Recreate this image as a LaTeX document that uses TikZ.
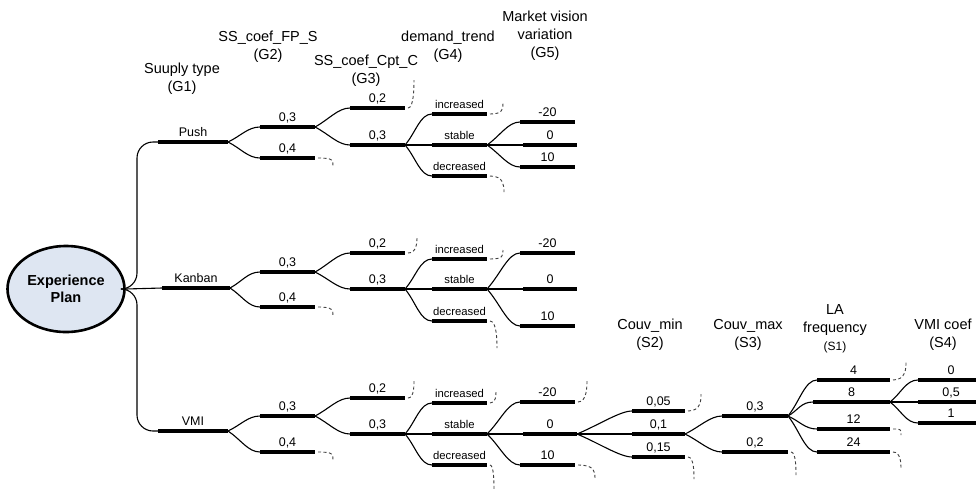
\documentclass[tikz,border=0pt]{standalone}
\usepackage{fontspec}
\setmainfont{Liberation Sans}
\usetikzlibrary{calc,shapes.geometric}
\definecolor{epfill}{HTML}{DEE6F2}
\tikzset{
  thk/.style={line width=3.8pt},
  thn/.style={line width=1.1pt},
  dsh/.style={line width=0.9pt, black!75, dash pattern=on 3pt off 2.5pt},
  lbl/.style={font=\fontsize{12.5}{14}\selectfont, inner sep=0pt},
  lbs/.style={font=\fontsize{11.3}{13}\selectfont, inner sep=0pt},
  hdr/.style={font=\fontsize{14.5}{18}\selectfont, align=center, inner sep=0pt},
}
\newcommand{\br}[6]{%
  \coordinate (#1s) at (#2,#4);
  \coordinate (#1e) at (#3,#4);
  \draw[thk] (#1s) -- (#1e);
  \node[#6, anchor=base] (#1l) at ($(#1s)!0.5!(#1e)+(0,-6)$) {#5};
}
\newcommand{\sg}[2]{\draw[thn] (#1) .. controls ($(#1)!0.4!(#2)$) and ($(#2)+(-12,0)$) .. (#2);}
\newcommand{\st}[2]{\draw[thn] (#1) -- (#2);}
\newcommand{\hku}[3]{\draw[dsh] ($(#1)+(3,0)$) .. controls +(#2,0) and +(0,6) .. ++(#2,#3);}
\newcommand{\hkd}[3]{\draw[dsh] ($(#1)+(3,0)$) .. controls +(#2,0) and +(0,-6) .. ++(#2,#3);}
\begin{document}
\begin{tikzpicture}[x=1pt,y=-1pt]
\clip (0,0) rectangle (976,493);
\fill[white] (0,0) rectangle (976,493);

% root
\node[ellipse, draw, line width=2.6pt, fill=epfill, minimum width=117pt, minimum height=86pt,
      font=\fontsize{14.5}{17}\selectfont\bfseries, align=center, inner sep=0pt] (ep) at (66,289) {Experience\\Plan};

% headers
\node[hdr] (h1) at (182,79) {Suuply type\\(G1)};
\node[hdr] (h2) at (268,46.5) {SS\_coef\_FP\_S\\(G2)};
\node[hdr] (h3) at (366,71) {SS\_coef\_Cpt\_C\\(G3)};
\node[hdr] (h4) at (448,46.5) {demand\_trend\\(G4)};
\node[hdr] (h5) at (545,35.5) {Market vision\\variation\\(G5)};
\node[hdr] (h6) at (650,334.5) {Couv\_min\\(S2)};
\node[hdr] (h7) at (748,334.5) {Couv\_max\\(S3)};
\node[hdr] (h8) at (835,329) {LA\\frequency\\{\fontsize{12}{14}\selectfont(S1)}};
\node[hdr] (h9) at (943,334.5) {VMI coef\\(S4)};

% ---------- Push ----------
\br{pu}{158}{228}{142}{Push}{lbl}
\br{p2a}{260}{315}{127}{0,3}{lbl}
\br{p2b}{260}{315}{158}{0,4}{lbl}
\br{p3a}{350}{405}{108}{0,2}{lbl}
\br{p3b}{350}{405}{145}{0,3}{lbl}
\br{p4a}{432}{487}{114}{increased}{lbs}
\br{p4b}{432}{487}{145}{stable}{lbs}
\br{p4c}{432}{487}{176}{decreased}{lbs}
\br{p5a}{520}{575}{122}{-20}{lbl}
\br{p5b}{523}{577}{145}{0}{lbl}
\br{p5c}{520}{575}{167}{10}{lbl}
\sg{pue}{p2as} \sg{pue}{p2bs}
\sg{p2ae}{p3as} \sg{p2ae}{p3bs}
\sg{p3be}{p4as} \st{p3be}{p4bs} \sg{p3be}{p4cs}
\sg{p4be}{p5as} \st{p4be}{p5bs} \sg{p4be}{p5cs}
\hkd{p2be}{15}{8}
\hku{p3ae}{6}{-28}
\hku{p4ae}{13}{-11}
\hkd{p4ce}{14}{16}

% ---------- Kanban ----------
\br{ka}{162}{230}{288}{Kanban}{lbl}
\br{k2a}{260}{315}{272}{0,3}{lbl}
\br{k2b}{260}{315}{307}{0,4}{lbl}
\br{k3a}{350}{405}{253}{0,2}{lbl}
\br{k3b}{350}{405}{289}{0,3}{lbl}
\br{k4a}{432}{487}{259}{increased}{lbs}
\br{k4b}{432}{487}{289}{stable}{lbs}
\br{k4c}{432}{487}{321}{decreased}{lbs}
\br{k5a}{520}{575}{253}{-20}{lbl}
\br{k5b}{523}{577}{289}{0}{lbl}
\br{k5c}{520}{575}{326}{10}{lbl}
\sg{kae}{k2as} \sg{kae}{k2bs}
\sg{k2ae}{k3as} \sg{k2ae}{k3bs}
\sg{k3be}{k4as} \st{k3be}{k4bs} \sg{k3be}{k4cs}
\sg{k4be}{k5as} \st{k4be}{k5bs} \sg{k4be}{k5cs}
\hkd{k2be}{15}{9}
\hku{k3ae}{9}{-17}
\hku{k4ae}{13}{-9}
\hkd{k4ce}{7}{27}

% ---------- VMI ----------
\br{vm}{158}{228}{431}{VMI}{lbl}
\br{v2a}{260}{315}{416}{0,3}{lbl}
\br{v2b}{260}{315}{452}{0,4}{lbl}
\br{v3a}{350}{405}{398}{0,2}{lbl}
\br{v3b}{350}{405}{434}{0,3}{lbl}
\br{v4a}{432}{487}{403}{increased}{lbs}
\br{v4b}{432}{487}{434}{stable}{lbs}
\br{v4c}{432}{487}{465}{decreased}{lbs}
\br{v5a}{520}{575}{402}{-20}{lbl}
\br{v5b}{523}{577}{434}{0}{lbl}
\br{v5c}{520}{575}{465}{10}{lbl}
\sg{vme}{v2as} \sg{vme}{v2bs}
\sg{v2ae}{v3as} \sg{v2ae}{v3bs}
\sg{v3be}{v4as} \st{v3be}{v4bs} \sg{v3be}{v4cs}
\sg{v4be}{v5as} \st{v4be}{v5bs} \sg{v4be}{v5cs}
\hkd{v2be}{15}{8}
\hku{v3ae}{6}{-18}
\hku{v4ae}{6}{-13}
\hkd{v4ce}{4}{25}
\hku{v5ae}{9}{-22}
\hkd{v5ce}{17}{13}

% S2
\br{s2a}{632}{685}{411}{0,05}{lbl}
\br{s2b}{632}{685}{434}{0,1}{lbl}
\br{s2c}{632}{685}{457}{0,15}{lbl}
\sg{v5be}{s2as} \st{v5be}{s2bs} \sg{v5be}{s2cs}
\hku{s2ae}{13}{-17}
\hkd{s2ce}{6}{22}
% S3
\br{s3a}{722}{788}{416}{0,3}{lbl}
\br{s3b}{722}{788}{452}{0,2}{lbl}
\sg{s2be}{s3as} \sg{s2be}{s3bs}
\hkd{s3be}{5}{23}
% S1
\br{s1a}{817}{890}{380}{4}{lbl}
\br{s1b}{813}{890}{402}{8}{lbl}
\br{s1c}{817}{890}{429}{12}{lbl}
\br{s1d}{817}{890}{452}{24}{lbl}
\sg{s3ae}{s1as} \sg{s3ae}{s1bs} \sg{s3ae}{s1cs} \sg{s3ae}{s1ds}
\hku{s1ae}{13}{-18}
\hkd{s1ce}{8}{6}
\hkd{s1de}{8}{18}
% S4
\br{s4a}{918}{984}{380}{0}{lbl}
\br{s4b}{918}{984}{402}{0,5}{lbl}
\br{s4c}{918}{984}{423}{1}{lbl}
\sg{s1be}{s4as} \st{s1be}{s4bs} \sg{s1be}{s4cs}

% trunks
\draw[thn, rounded corners=16pt] (ep.east) -| (137,142) -- (pus);
\draw[thn] (ep.east) -- (kas);
\draw[thn, rounded corners=16pt] (ep.east) -| (137,431) -- (vms);
\end{tikzpicture}
\end{document}
